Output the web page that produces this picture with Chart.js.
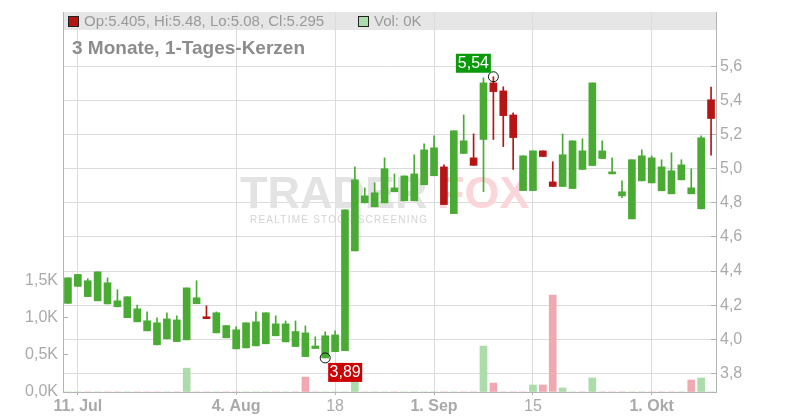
<!DOCTYPE html>
<html>
<head>
<meta charset="utf-8">
<script src="https://cdn.jsdelivr.net/npm/chart.js@4.4.1/dist/chart.umd.min.js"></script>
<style>
  html, body { margin: 0; padding: 0; background: #fff; }
  canvas { display: block; }
</style>
</head>
<body>
<canvas id="chart" width="800" height="420"></canvas>
<script>
// trading days, one candle each
const dates = [
  '2025-07-10', '2025-07-11', '2025-07-14', '2025-07-15', '2025-07-16', '2025-07-17', '2025-07-18',
  '2025-07-21', '2025-07-22', '2025-07-23', '2025-07-24', '2025-07-25', '2025-07-28', '2025-07-29',
  '2025-07-30', '2025-07-31', '2025-08-01', '2025-08-04', '2025-08-05', '2025-08-06', '2025-08-07',
  '2025-08-08', '2025-08-11', '2025-08-12', '2025-08-13', '2025-08-14', '2025-08-15', '2025-08-18',
  '2025-08-19', '2025-08-20', '2025-08-21', '2025-08-22', '2025-08-25', '2025-08-26', '2025-08-27',
  '2025-08-28', '2025-08-29', '2025-09-01', '2025-09-02', '2025-09-03', '2025-09-04', '2025-09-05',
  '2025-09-08', '2025-09-09', '2025-09-10', '2025-09-11', '2025-09-12', '2025-09-15', '2025-09-16',
  '2025-09-17', '2025-09-18', '2025-09-19', '2025-09-22', '2025-09-23', '2025-09-24', '2025-09-25',
  '2025-09-26', '2025-09-29', '2025-09-30', '2025-10-01', '2025-10-02', '2025-10-03', '2025-10-06',
  '2025-10-07', '2025-10-08', '2025-10-09'
];

const open = [
  4.21, 4.31, 4.25, 4.225, 4.207, 4.19, 4.126, 4.102, 4.049, 3.967,
  4.002, 3.986, 3.996, 4.208, 4.131, 4.037, 4.008, 3.943, 3.949, 3.961,
  3.973, 4.02, 3.984, 3.957, 3.898, 3.945, 3.89, 3.927, 3.933, 4.518,
  4.8, 4.777, 4.8, 4.865, 4.812, 4.812, 4.906, 4.959, 5.011, 4.737,
  5.09, 5.064, 5.172, 5.504, 5.457, 5.316, 4.872, 4.872, 5.105, 4.923,
  4.896, 4.884, 4.996, 5.019, 5.06, 4.97, 4.841, 4.706, 4.929, 4.917,
  4.871, 4.853, 4.935, 4.853, 4.765, 5.405
];
const high = [
  4.36, 4.38, 4.355, 4.395, 4.36, 4.29, 4.249, 4.2, 4.16, 4.125,
  4.155, 4.137, 4.301, 4.343, 4.196, 4.16, 4.08, 4.073, 4.096, 4.16,
  4.155, 4.137, 4.107, 4.107, 4.078, 4.014, 4.043, 4.049, 4.759, 5.011,
  4.888, 4.918, 5.064, 4.97, 4.958, 5.082, 5.146, 5.193, 5.023, 5.223,
  5.316, 5.205, 5.534, 5.54, 5.481, 5.328, 5.076, 5.105, 5.105, 5.041,
  5.205, 5.164, 5.176, 5.504, 5.164, 5.064, 4.929, 5.053, 5.111, 5.076,
  5.053, 5.094, 5.053, 5.0, 5.193, 5.48
];
const low = [
  4.21, 4.31, 4.25, 4.225, 4.207, 4.19, 4.126, 4.102, 4.049, 3.967,
  4.002, 3.986, 3.996, 4.208, 4.12, 4.037, 4.008, 3.943, 3.949, 3.961,
  3.973, 4.02, 3.984, 3.957, 3.898, 3.945, 3.89, 3.927, 3.933, 4.518,
  4.8, 4.777, 4.8, 4.865, 4.812, 4.812, 4.906, 4.959, 4.79, 4.737,
  5.09, 5.02, 4.866, 5.172, 5.13, 4.996, 4.872, 4.872, 5.072, 4.896,
  4.896, 4.884, 4.996, 5.019, 5.06, 4.97, 4.831, 4.706, 4.929, 4.917,
  4.871, 4.853, 4.935, 4.853, 4.765, 5.08
];
const close = [
  4.36, 4.38, 4.343, 4.395, 4.331, 4.225, 4.249, 4.178, 4.108, 4.096,
  4.119, 4.113, 4.301, 4.243, 4.12, 4.155, 4.08, 4.055, 4.096, 4.102,
  4.155, 4.09, 4.09, 4.045, 4.037, 3.96, 4.02, 4.025, 4.759, 4.935,
  4.841, 4.859, 5.0, 4.888, 4.958, 4.97, 5.111, 5.123, 4.79, 5.223,
  5.164, 5.02, 5.504, 5.453, 5.312, 5.183, 5.076, 5.105, 5.072, 4.896,
  5.082, 5.164, 5.105, 5.504, 5.105, 4.976, 4.865, 5.053, 5.076, 5.064,
  5.011, 4.988, 5.023, 4.888, 5.182, 5.295
];
// volume in shares
const volume = [
  0, 0, 0, 0, 0, 0, 0, 0, 0, 0,
  0, 0, 320, 0, 0, 0, 0, 0, 0, 0,
  0, 0, 0, 0, 200, 0, 0, 0, 0, 134,
  0, 0, 0, 0, 0, 0, 0, 0, 0, 0,
  0, 0, 617, 120, 0, 0, 0, 94, 94, 1300,
  54, 0, 0, 188, 0, 0, 0, 0, 0, 0,
  0, 0, 0, 161, 188, 0
];

const priceTicks = [3.8, 4.0, 4.2, 4.4, 4.6, 4.8, 5.0, 5.2, 5.4, 5.6];
const volTicks = [0, 500, 1000, 1500];
const xTickDates = ['2025-07-11', '2025-08-04', '2025-08-18', '2025-09-01', '2025-09-15', '2025-10-01'];
const xTickLabels = ['11. Jul', '4. Aug', '18', '1. Sep', '15', '1. Okt'];
const xTickBold = [true, true, false, true, false, true];

const GREEN = '#4aab34';
const RED = '#b51515';
const VOL_UP = '#abdcaa';
const VOL_DOWN = '#f0a9b1';
const FONT = "'Liberation Sans', Arial, sans-serif";

const candleColors = open.map((o, i) => close[i] >= o ? GREEN : RED);
const volColors = close.map((c, i) => (i > 0 && c < close[i - 1]) ? VOL_DOWN : VOL_UP);

const tickIndex = xTickDates.map(d => dates.indexOf(d));
const fmt = (v, d) => v.toFixed(d).replace('.', ',');

// header band, title and watermark behind the candles
const backdropPlugin = {
  id: 'backdrop',
  beforeDraw(chart) {
    const { ctx, chartArea } = chart;
    ctx.save();
    ctx.fillStyle = '#e6e6e6';
    ctx.fillRect(chartArea.left, chartArea.top, chartArea.right - chartArea.left, 18);
    ctx.restore();
  },
  beforeDatasetsDraw(chart) {
    const { ctx } = chart;
    ctx.save();
    ctx.font = 'bold 45px ' + FONT;
    ctx.textBaseline = 'alphabetic';
    ctx.fillStyle = '#e3e3e3';
    ctx.fillText('TRADER', 240, 208);
    ctx.fillStyle = '#fad6da';
    ctx.fillText('FOX', 437, 208);
    ctx.font = '10px ' + FONT;
    const sub = 'REALTIME STOCK SCREENING';
    const w = ctx.measureText(sub).width;
    ctx.letterSpacing = ((177 - w) / (sub.length - 1)).toFixed(2) + 'px';
    ctx.fillStyle = '#d4d4d4';
    ctx.fillText(sub, 250, 223);
    ctx.restore();
  },
  afterDraw(chart) {
    const { ctx } = chart;
    const last = open.length - 1;
    ctx.save();
    ctx.textBaseline = 'middle';
    ctx.font = '15px ' + FONT;
    ctx.fillStyle = candleColors[last];
    ctx.fillRect(68.5, 16.5, 10, 10);
    ctx.strokeStyle = '#222';
    ctx.lineWidth = 1;
    ctx.strokeRect(68.5, 16.5, 10, 10);
    ctx.fillStyle = '#999';
    ctx.fillText('Op:' + open[last] + ', Hi:' + high[last] + ', Lo:' + low[last] + ', Cl:' + close[last], 84, 22);
    ctx.fillStyle = VOL_UP;
    ctx.fillRect(358.5, 16.5, 10, 10);
    ctx.strokeRect(358.5, 16.5, 10, 10);
    ctx.fillStyle = '#999';
    ctx.fillText('Vol: ' + Math.round(volume[last] / 1000) + 'K', 374, 22);

    ctx.font = 'bold 19px ' + FONT;
    ctx.fillStyle = '#8c8c8c';
    ctx.textBaseline = 'alphabetic';
    ctx.fillText('3 Monate, 1-Tages-Kerzen', 72, 54);

    // max / min markers
    const xs = chart.scales.x, ys = chart.scales.y;
    const hi = high.indexOf(Math.max(...high));
    const lo = low.indexOf(Math.min(...low));
    const hx = xs.getPixelForValue(hi), hy = ys.getPixelForValue(high[hi]);
    const lx = xs.getPixelForValue(lo), ly = ys.getPixelForValue(low[lo]);
    ctx.strokeStyle = '#111';
    ctx.beginPath(); ctx.arc(hx, hy, 5, 0, Math.PI * 2); ctx.stroke();
    ctx.beginPath(); ctx.arc(lx, ly, 5, 0, Math.PI * 2); ctx.stroke();
    ctx.font = '16px ' + FONT;
    ctx.textAlign = 'center';
    ctx.textBaseline = 'middle';
    ctx.fillStyle = '#0a9a0a';
    ctx.fillRect(hx - 37.5, hy - 23, 35, 19);
    ctx.fillStyle = '#fff';
    ctx.fillText(fmt(high[hi], 2), hx - 20, hy - 13);
    ctx.fillStyle = '#cc0000';
    ctx.fillRect(lx + 3, ly + 5, 34, 19);
    ctx.fillStyle = '#fff';
    ctx.fillText(fmt(low[lo], 2), lx + 20, ly + 15);
    ctx.restore();
  }
};

Chart.defaults.font.family = FONT;

const noPad = (scale) => { scale.paddingTop = 0; scale.paddingBottom = 0; };

new Chart(document.getElementById('chart'), {
  type: 'bar',
  data: {
    labels: dates,
    datasets: [
      {
        label: 'body',
        data: open.map((o, i) => [o, close[i]]),
        backgroundColor: candleColors,
        barThickness: 7,
        minBarLength: 2,
        grouped: false,
        yAxisID: 'y'
      },
      {
        label: 'wick',
        data: low.map((l, i) => [l, high[i]]),
        backgroundColor: candleColors,
        barThickness: 1,
        grouped: false,
        yAxisID: 'y'
      },
      {
        label: 'volume',
        data: volume,
        backgroundColor: volColors,
        barThickness: 7,
        grouped: false,
        yAxisID: 'yVol'
      }
    ]
  },
  options: {
    responsive: false,
    animation: false,
    events: [],
    layout: { padding: { top: 12 } },
    plugins: { legend: { display: false }, tooltip: { enabled: false } },
    scales: {
      x: {
        offset: true,
        grid: { offset: false, color: '#dcdcdc', tickColor: '#b0b0b0', tickLength: 3 },
        border: { color: '#b4b4b4' },
        afterBuildTicks: (scale) => { scale.ticks = tickIndex.map(v => ({ value: v })); },
        afterFit: (scale) => { scale.height = 28; scale.paddingLeft = 0; scale.paddingRight = 0; },
        ticks: {
          autoSkip: false,
          maxRotation: 0,
          padding: 2,
          color: '#aaa',
          font: (c) => ({ size: 16, family: FONT, weight: (c.tick && xTickBold[tickIndex.indexOf(c.tick.value)]) ? 'bold' : 'normal' }),
          callback: (v) => xTickLabels[tickIndex.indexOf(v)]
        }
      },
      y: {
        position: 'right',
        min: 3.69,
        max: 5.92,
        grid: { color: '#dcdcdc', tickColor: '#b0b0b0', tickLength: -5 },
        border: { color: '#b4b4b4' },
        afterBuildTicks: (scale) => { scale.ticks = priceTicks.map(v => ({ value: v })); },
        afterFit: (scale) => { scale.width = 84; noPad(scale); },
        ticks: { padding: 9, color: '#aaa', font: { size: 16 }, callback: (v) => fmt(v, 1) }
      },
      yVol: {
        position: 'left',
        min: 0,
        max: 5100,
        grid: { drawOnChartArea: false, tickColor: '#b0b0b0', tickLength: -5 },
        border: { color: '#b4b4b4' },
        afterBuildTicks: (scale) => { scale.ticks = volTicks.map(v => ({ value: v })); },
        afterFit: (scale) => { scale.width = 63; noPad(scale); },
        ticks: { padding: 10, color: '#aaa', font: { size: 16 }, callback: (v) => fmt(v / 1000, 1) + 'K' }
      }
    }
  },
  plugins: [backdropPlugin]
});
</script>
</body>
</html>
